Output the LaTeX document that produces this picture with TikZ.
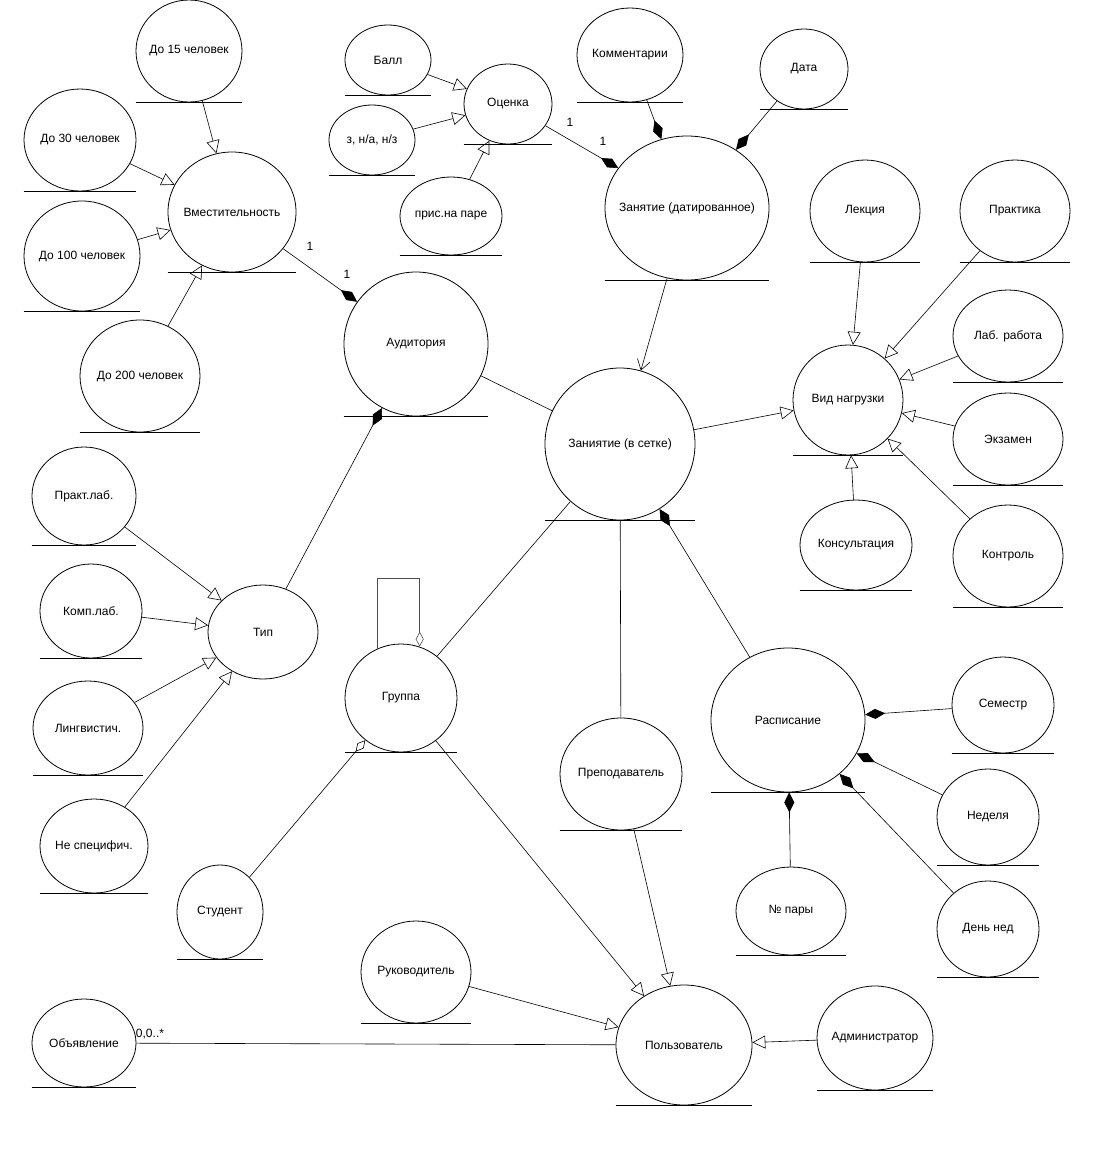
\documentclass[tikz,border=0pt]{standalone}
\usepackage{fontspec}
\setmainfont{Liberation Sans}
\usetikzlibrary{shapes.geometric,arrows.meta}

\tikzset{
  ent/.style 2 args={draw, ellipse, inner sep=0pt, line width=0.8pt,
    minimum width=#1, minimum height=#2,
    execute at begin node={\hbox to 0pt\bgroup\hss},
    execute at end node={\hss\egroup}},
  gen/.style={line width=0.6pt, -{Triangle[open,length=13pt,width=13pt]}},
  comp/.style={line width=0.6pt, -{Diamond[length=20pt,width=10pt]}},
  aggr/.style={line width=0.6pt, -{Diamond[open,length=15pt,width=8pt]}},
  assoc/.style={line width=0.6pt},
}

\begin{document}
\begin{tikzpicture}[x=1pt,y=-1pt,font=\fontsize{12}{14}\selectfont]
		\useasboundingbox (0,0) rectangle (1096,1152);
		\draw
		node[ent={106}{102}] at (189,51) (cap15) {До 15 человек}
		node[ent={112}{102}] at (80,140) (cap30) {До 30 человек}
		node[ent={116}{110}] at (82,256) (cap100) {До 100 человек}
		node[ent={128}{120}] at (232,212) (vmest) {Вместительность}
		node[ent={120}{112}] at (140,376) (cap200) {До 200 человек}
		node[ent={86}{70}] at (388,60) (ball) {Балл}
		node[ent={86}{70}] at (372,140) (zach) {з, н/а, н/з}
		node[ent={88}{80}] at (508,104) (ocen) {Оценка}
		node[ent={102}{78}] at (451,216) (pris) {прис.на паре}
		node[ent={144}{144}] at (416,344) (aud) {Аудитория}
		node[ent={106}{94}] at (630,55) (komm) {Комментарии}
		node[ent={88}{80}] at (804,69) (data) {Дата}
		node[ent={164}{144}] at (687,208) (zdat) {Занятие (датированное)}
		node[ent={110}{102}] at (865,211) (lek) {Лекция}
		node[ent={110}{102}] at (1015,211) (prak) {Практика}
		node[ent={110}{92}] at (1008,336) (lab) {Лаб. работа}
		node[ent={110}{110}] at (848,400) (vid) {Вид нагрузки}
		node[ent={110}{92}] at (1008,439) (ekz) {Экзамен}
		node[ent={150}{152}] at (620,444) (zset) {Заниятие (в сетке)}
		node[ent={112}{90}] at (856,545) (kons) {Консультация}
		node[ent={110}{102}] at (1008,556) (kontr) {Контроль}
		node[ent={104}{98}] at (84,496) (plab) {Практ.лаб.}
		node[ent={102}{94}] at (91,611) (klab) {Комп.лаб.}
		node[ent={110}{94}] at (263,632) (tip) {Тип}
		node[ent={110}{94}] at (88,728) (ling) {Лингвистич.}
		node[ent={108}{94}] at (94,846) (nesp) {Не специфич.}
		node[ent={112}{108}] at (401,698) (grp) {Группа}
		node[ent={86}{94}] at (220,912) (stud) {Студент}
		node[ent={122}{112}] at (621,774) (prep) {Преподаватель}
		node[ent={154}{144}] at (788,720) (rasp) {Расписание}
		node[ent={102}{96}] at (1003,705) (sem) {Семестр}
		node[ent={102}{96}] at (988,817) (ned) {Неделя}
		node[ent={102}{96}] at (988,929) (dned) {День нед}
		node[ent={110}{88}] at (791,911) (npar) {№ пары}
		node[ent={110}{102}] at (416,972) (ruk) {Руководитель}
		node[ent={104}{88}] at (84,1043) (obj) {Объявление}
		node[ent={136}{120}] at (684,1045) (polz) {Пользователь}
		node[ent={116}{104}] at (875,1038) (adm) {Администратор};

		% linhas embaixo
		\foreach \n in {cap15,cap30,cap100,vmest,cap200,ball,zach,ocen,pris,aud,komm,data,zdat,lek,prak,lab,vid,ekz,zset,kons,kontr,plab,klab,ling,nesp,grp,stud,prep,rasp,sem,ned,dned,npar,ruk,obj,polz,adm}
			\draw[line width=0.9pt] (\n.west |- \n.south) -- (\n.east |- \n.south);

		% multiplicidades
		\node at (310,246) (m1) {1};
		\node at (347,274) (m2) {1};
		\node at (570,122) (m3) {1};
		\node at (603,141) (m4) {1};
		\node at (150,1034) (m5) {0,0..*};

		\draw[gen] (cap15) -- (vmest);
		\draw[gen] (cap30) -- (vmest);
		\draw[gen] (cap100) -- (vmest);
		\draw[gen] (cap200) -- (vmest);
		\draw[gen] (ball) -- (ocen);
		\draw[gen] (zach) -- (ocen);
		\draw[gen] (pris) -- (ocen);
		\draw[gen] (lek) -- (vid);
		\draw[gen] (prak) -- (vid);
		\draw[gen] (lab) -- (vid);
		\draw[gen] (ekz) -- (vid);
		\draw[gen] (kons) -- (vid);
		\draw[gen] (kontr) -- (vid);
		\draw[gen] (zset) -- (vid);
		\draw[gen] (plab) -- (tip);
		\draw[gen] (klab) -- (tip);
		\draw[gen] (ling) -- (tip);
		\draw[gen] (nesp) -- (tip);
		\draw[gen] (grp) -- (polz);
		\draw[gen] (prep) -- (polz);
		\draw[gen] (ruk) -- (polz);
		\draw[gen] (adm) -- (polz);

		\draw[comp] (vmest) -- (aud);
		\draw[comp] (tip) -- (aud);
		\draw[comp] (ocen) -- (zdat);
		\draw[comp] (komm) -- (zdat);
		\draw[comp] (data) -- (zdat);
		\draw[comp] (rasp) -- (zset);
		\draw[comp] (sem) -- (rasp);
		\draw[comp] (ned) -- (rasp);
		\draw[comp] (dned) -- (rasp);
		\draw[comp] (npar) -- (rasp);

		\draw[aggr] (stud) -- (grp);
		\draw[aggr, black!70] (grp.116) -- ++(0,-70) -| (grp.70);

		\draw[line width=0.6pt, -{Straight Barb[length=10pt,width=13pt]}] (zdat) -- (zset);
		\draw[assoc] (aud) -- (zset);
		\draw[assoc] (grp) -- (zset);
		\draw[assoc] (zset) -- (prep);
		\draw[assoc] (obj) -- (polz);
	\end{tikzpicture}
\end{document}
